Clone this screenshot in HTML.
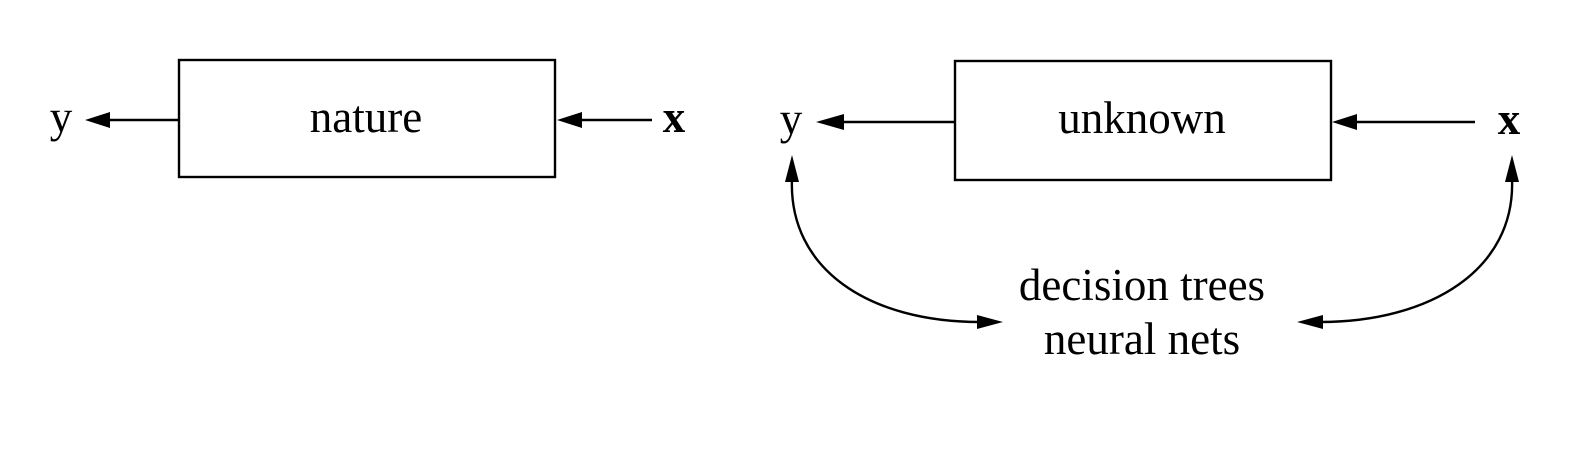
<!DOCTYPE html>
<html><head><style>body{margin:0;background:#fff}text{font-family:"Liberation Serif",serif;font-size:45px;fill:#000}</style></head>
<body>
<svg width="1576" height="453" viewBox="0 0 1576 453">
<rect width="1576" height="453" fill="#fff"/>
<g stroke="#000" stroke-width="2.4" fill="none">
<rect x="179" y="60" width="376" height="117"/>
<rect x="955" y="61" width="376" height="119"/>
<line x1="179" y1="120" x2="108" y2="120"/>
<line x1="652" y1="120" x2="580" y2="120"/>
<line x1="955" y1="122" x2="842" y2="122"/>
<line x1="1475" y1="122" x2="1355" y2="122"/>
<path d="M792,178 C788,270 870,322 980,322"/>
<path d="M1512,178 C1516,270 1430,322 1320,322"/>
</g>
<g fill="#000">
<polygon points="85,120 110,112 110,128"/>
<polygon points="557,120 582,112 582,128"/>
<polygon points="816,122 844,114 844,130"/>
<polygon points="1332,122 1357,114 1357,130"/>
<polygon points="792,155 785,182 799,182"/>
<polygon points="1512,155 1505,182 1519,182"/>
<polygon points="1003,322 977,315 977,329"/>
<polygon points="1297,322 1323,315 1323,329"/>
</g>
<text x="366" y="132" text-anchor="middle">nature</text>
<text x="1142" y="133" text-anchor="middle">unknown</text>
<text x="61" y="132" text-anchor="middle">y</text>
<text x="674" y="132" text-anchor="middle" font-weight="bold">x</text>
<text x="791" y="134" text-anchor="middle">y</text>
<text x="1509" y="134" text-anchor="middle" font-weight="bold">x</text>
<text x="1142" y="300" text-anchor="middle">decision trees</text>
<text x="1142" y="354" text-anchor="middle">neural nets</text>
</svg>
</body></html>
